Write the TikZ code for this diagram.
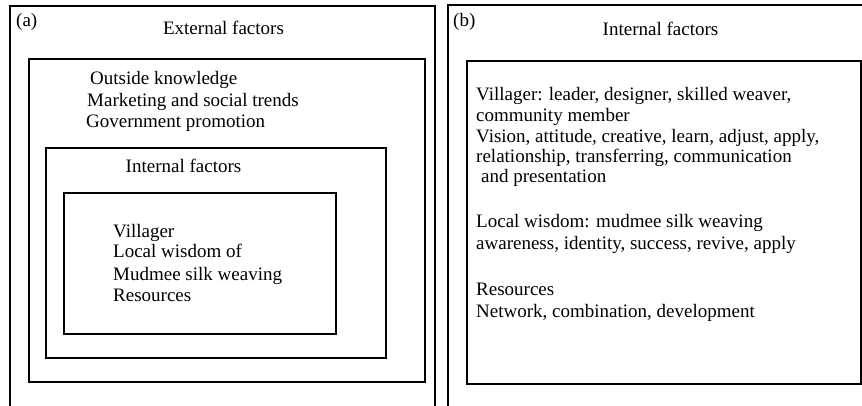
\documentclass[tikz,border=0pt]{standalone}
\usepackage{fontspec}
\setmainfont{Liberation Serif}
\begin{document}
\begin{tikzpicture}[x=1pt,y=-1pt,
  frame/.style={draw=black,line width=1.6pt},
  txt/.style={inner sep=0pt,font=\fontsize{19}{22}\selectfont,anchor=base west},
  ctxt/.style={inner sep=0pt,font=\fontsize{19}{22}\selectfont,anchor=base}]
\useasboundingbox (0,0) rectangle (862,406);
\clip (0,0) rectangle (862,406);
% panel (a)
\draw[frame] (10,420) -- (10,6) -- (435,6) -- (435,420);
\node[frame,inner sep=0pt,minimum width=396pt,minimum height=323pt,anchor=north west] (ext) at (28,58) {};
\node[frame,inner sep=0pt,minimum width=340pt,minimum height=210pt,anchor=north west] (int) at (45,147) {};
\node[frame,inner sep=0pt,minimum width=272pt,minimum height=141pt,anchor=north west] (core) at (63,192) {};
\node[txt] (la) at (16,27) {(a)};
\node[ctxt] (extt) at (223.5,35) {External factors};
\node[txt] (e1) at (90,85) {Outside knowledge};
\node[txt] (e2) at (87,107) {Marketing and social trends};
\node[txt] (e3) at (86,128) {Government promotion};
\node[ctxt] (intt) at (183.5,173) {Internal factors};
\node[txt] (c1) at (113,237) {Villager};
\node[txt] (c2) at (113,258) {Local wisdom of};
\node[txt] (c3) at (113,280) {Mudmee silk weaving};
\node[txt] (c4) at (113,301) {Resources};
% panel (b)
\draw[frame] (448,420) -- (448,5) -- (870,5);
\node[frame,inner sep=0pt,minimum width=394pt,minimum height=323pt,anchor=north west] (bbox) at (466,60) {};
\node[txt] (lb) at (453,27) {(b)};
\node[ctxt] (bint) at (660.5,36) {Internal factors};
\node[txt] (r1) at (476,101) {Villager: leader, designer, skilled weaver,};
\node[txt] (r2) at (476,122) {community member};
\node[txt] (r3) at (476,143) {Vision, attitude, creative, learn, adjust, apply,};
\node[txt] (r4) at (476,163) {relationship, transferring, communication};
\node[txt] (r5) at (481,183) {and presentation};
\node[txt] (r6) at (476,228) {Local wisdom: mudmee silk weaving};
\node[txt] (r7) at (476,250) {awareness, identity, success, revive, apply};
\node[txt] (r8) at (476,295) {Resources};
\node[txt] (r9) at (476,317) {Network, combination, development};
\end{tikzpicture}
\end{document}
